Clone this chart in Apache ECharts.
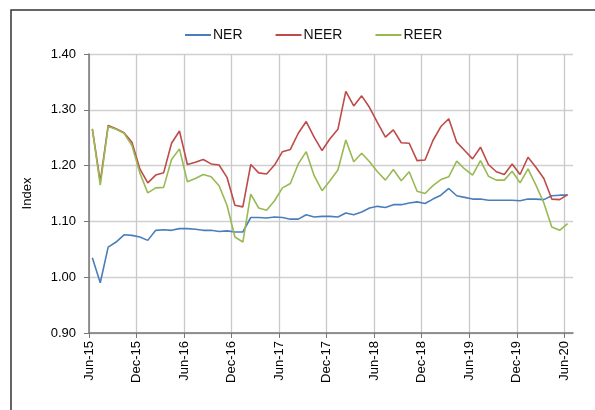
<!DOCTYPE html>
<html>
  <head>
    <meta charset="utf-8" />
    <style>
      body { margin: 0; background: #fff; }
      #chart { width: 595px; height: 410px; }
    </style>
    <script src="https://cdn.jsdelivr.net/npm/echarts@6.0.0/dist/echarts.min.js"></script>
  </head>
  <body>
    <div id="chart"></div>
    <script type="text/javascript">
      // monthly values, Jun-15 .. Jun-20
      var nerData = [1.035, 0.990, 1.054, 1.063, 1.076, 1.075, 1.072, 1.066, 1.084, 1.085,
                     1.084, 1.087, 1.087, 1.086, 1.084, 1.084, 1.082, 1.083, 1.081, 1.081,
                     1.107, 1.107, 1.106, 1.108, 1.107, 1.104, 1.104, 1.112, 1.108, 1.109,
                     1.109, 1.108, 1.115, 1.112, 1.117, 1.124, 1.127, 1.125, 1.130, 1.130,
                     1.133, 1.135, 1.132, 1.140, 1.147, 1.159, 1.146, 1.143, 1.140, 1.140,
                     1.138, 1.138, 1.138, 1.138, 1.137, 1.140, 1.140, 1.139, 1.146, 1.147,
                     1.147];
      var neerData = [1.266, 1.171, 1.272, 1.266, 1.259, 1.242, 1.194, 1.169, 1.183, 1.187,
                      1.240, 1.262, 1.202, 1.206, 1.211, 1.203, 1.201, 1.179, 1.129, 1.126,
                      1.202, 1.187, 1.185, 1.201, 1.225, 1.229, 1.258, 1.279, 1.251, 1.227,
                      1.248, 1.265, 1.333, 1.307, 1.325, 1.304, 1.277, 1.251, 1.264, 1.241,
                      1.240, 1.209, 1.210, 1.245, 1.270, 1.284, 1.242, 1.227, 1.212, 1.233,
                      1.202, 1.189, 1.184, 1.203, 1.184, 1.215, 1.197, 1.177, 1.140, 1.139,
                      1.148];
      var reerData = [1.266, 1.165, 1.270, 1.265, 1.258, 1.236, 1.187, 1.151, 1.160, 1.161,
                      1.211, 1.230, 1.171, 1.177, 1.184, 1.180, 1.164, 1.129, 1.072, 1.063,
                      1.149, 1.124, 1.120, 1.137, 1.160, 1.168, 1.203, 1.225, 1.182, 1.155,
                      1.173, 1.192, 1.246, 1.207, 1.222, 1.207, 1.189, 1.174, 1.193, 1.173,
                      1.189, 1.154, 1.150, 1.164, 1.175, 1.180, 1.208, 1.194, 1.183, 1.209,
                      1.181, 1.174, 1.174, 1.190, 1.169, 1.194, 1.165, 1.133, 1.090, 1.084,
                      1.096];
      var tickLabels = ['Jun-15', 'Dec-15', 'Jun-16', 'Dec-16', 'Jun-17', 'Dec-17',
                        'Jun-18', 'Dec-18', 'Jun-19', 'Dec-19', 'Jun-20'];

      var dayOffset = 0.42;   // points sit mid-month, a little right of the tick
      var tickValues = tickLabels.map(function (l, k) { return k * 6; });

      function toPoints(arr) {
        return arr.map(function (v, i) { return [i + dayOffset, v]; });
      }

      var font = "'Liberation Sans', Arial, sans-serif";
      var chart = echarts.init(document.getElementById('chart'));

      var option = {
        animation: false,
        backgroundColor: '#fff',
        color: ['#4a7ebb', '#be4b48', '#98b954'],
        textStyle: { fontFamily: font },
        graphic: [{
          type: 'rect',
          shape: { x: 11, y: 10, width: 620, height: 440 },
          style: { fill: null, stroke: '#333', lineWidth: 1.5 },
          silent: true
        }],
        legend: {
          left: 180,
          top: 23,
          icon: 'rect',
          itemWidth: 26,
          itemHeight: 2,
          itemGap: 33,
          textStyle: { fontSize: 14, color: '#111', fontFamily: font, padding: [0, 0, 0, -3] },
          data: ['NER', 'NEER', 'REER']
        },
        grid: { left: 89, right: 22, top: 54, bottom: 77 },
        xAxis: {
          type: 'value',
          min: 0,
          max: 61.1,
          axisLine: { lineStyle: { color: '#777', width: 1.5 } },
          axisTick: { customValues: tickValues, length: 5, lineStyle: { color: '#777' } },
          axisLabel: {
            customValues: tickValues,
            rotate: 90,
            margin: 8,
            fontSize: 13,
            color: '#000',
            fontFamily: font,
            formatter: function (v) { return tickLabels[Math.round(v / 6)]; }
          },
          splitLine: { show: true, lineStyle: { color: '#c8c8c8', width: 1.3 } }
        },
        yAxis: {
          type: 'value',
          min: 0.9,
          max: 1.4,
          interval: 0.1,
          name: 'Index',
          nameLocation: 'middle',
          nameGap: 55,
          nameTextStyle: { fontSize: 13, color: '#000', fontFamily: font },
          axisLine: { show: true, lineStyle: { color: '#777', width: 1.5 } },
          axisTick: { show: true, inside: false, length: 5, lineStyle: { color: '#777' } },
          axisLabel: {
            margin: 13,
            fontSize: 13,
            color: '#000',
            fontFamily: font,
            formatter: function (v) { return v.toFixed(2); }
          },
          splitLine: { lineStyle: { color: '#d0d0d0', width: 1.3 } }
        },
        series: [
          { name: 'NER', type: 'line', symbol: 'none', lineStyle: { width: 1.6 }, data: toPoints(nerData) },
          { name: 'NEER', type: 'line', symbol: 'none', lineStyle: { width: 1.6 }, data: toPoints(neerData) },
          { name: 'REER', type: 'line', symbol: 'none', lineStyle: { width: 1.6 }, data: toPoints(reerData) }
        ]
      };

      chart.setOption(option);
    </script>
  </body>
</html>
